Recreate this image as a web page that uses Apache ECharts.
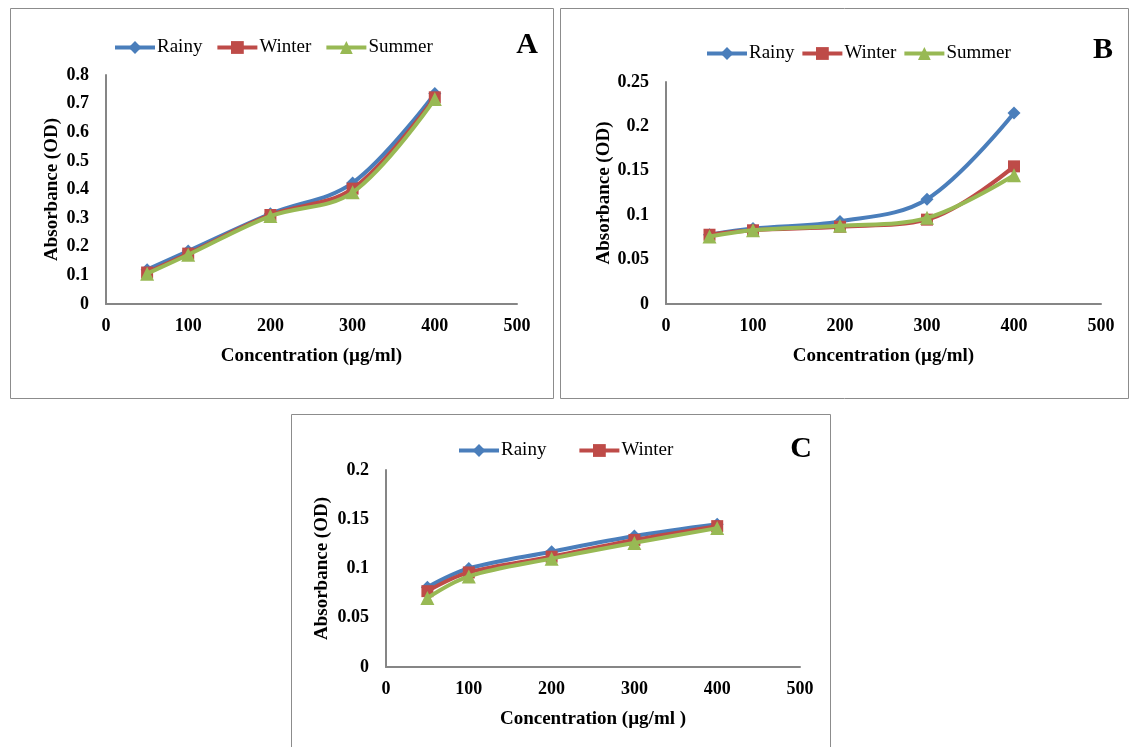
<!DOCTYPE html>
<html><head><meta charset="utf-8">
<script src="https://cdn.jsdelivr.net/npm/echarts@6/dist/echarts.min.js"></script>
<style>html,body{margin:0;padding:0;background:#fff}#c{width:1129px;height:747px}</style>
</head><body><div id="c"></div>
<script>
const concentrations = [50, 100, 200, 300, 400];
const seriesNames = ['Rainy', 'Winter', 'Summer'];
const panelLetters = ['A', 'B', 'C'];
const xTitles = ['Concentration (µg/ml)', 'Concentration (µg/ml)', 'Concentration (µg/ml )'];
const yTitle = 'Absorbance (OD)';
// Panel A
const aRainy  = [0.120, 0.185, 0.315, 0.423, 0.735];
const aWinter = [0.110, 0.176, 0.311, 0.403, 0.722];
const aSummer = [0.106, 0.172, 0.307, 0.390, 0.716];
// Panel B
const bRainy  = [0.078, 0.085, 0.093, 0.118, 0.215];
const bWinter = [0.078, 0.083, 0.087, 0.095, 0.155];
const bSummer = [0.076, 0.083, 0.088, 0.097, 0.145];
// Panel C
const cRainy  = [0.081, 0.100, 0.117, 0.133, 0.145];
const cWinter = [0.077, 0.096, 0.112, 0.129, 0.143];
const cSummer = [0.070, 0.092, 0.110, 0.126, 0.141];
const yMax = [0.8, 0.25, 0.2];
const yInterval = [0.1, 0.05, 0.05];
const legendItems = [['Rainy','Winter','Summer'], ['Rainy','Winter','Summer'], ['Rainy','Winter']];

const panelData = [[aRainy, aWinter, aSummer], [bRainy, bWinter, bSummer], [cRainy, cWinter, cSummer]];
const colors = ['#4A7EBB', '#BE4B48', '#98B954'];
const symbols = ['diamond', 'rect', 'triangle'];
const symSizes = [13, 12, 14];
const FONT = '"Liberation Serif", "Times New Roman", serif';

const grids = [
  {left: 106, top: 75, width: 411, height: 229},
  {left: 666, top: 82, width: 435, height: 222},
  {left: 386, top: 470, width: 414, height: 197}
];
const yNameGap = [44, 52, 54];
const legendPos = [
  {left: 113, top: 38, itemGap: 13},
  {left: 705, top: 44, itemGap: 6},
  {left: 457, top: 441, itemGap: 31}
];
const letterPos = [[527, 45], [1103, 50], [801, 449]];
const frames = [[10.5, 8.5, 543, 390], [560.5, 8.5, 568, 390], [291.5, 414.5, 539, 340]];

const chart = echarts.init(document.getElementById('c'), null, {renderer: 'canvas'});
const axisLine = {show: true, lineStyle: {color: '#868686', width: 2}};
const option = {
  backgroundColor: '#fff',
  animation: false,
  grid: grids,
  xAxis: grids.map((g, i) => ({
    type: 'value', gridIndex: i, min: 0, max: 500, interval: 100,
    name: xTitles[i], nameLocation: 'middle', nameGap: 43,
    nameTextStyle: {fontFamily: FONT, fontWeight: 'bold', fontSize: 19, color: '#000'},
    axisLine: axisLine, axisTick: {show: false}, splitLine: {show: false},
    axisLabel: {fontFamily: FONT, fontWeight: 'bold', fontSize: 18, color: '#000', margin: 13}
  })),
  yAxis: grids.map((g, i) => ({
    type: 'value', gridIndex: i, min: 0, max: yMax[i], interval: yInterval[i],
    name: yTitle, nameLocation: 'middle', nameGap: yNameGap[i], nameRotate: 90,
    nameTextStyle: {fontFamily: FONT, fontWeight: 'bold', fontSize: 19, color: '#000'},
    axisLine: axisLine, axisTick: {show: false}, splitLine: {show: false},
    axisLabel: {fontFamily: FONT, fontWeight: 'bold', fontSize: 18, color: '#000', margin: 17}
  })),
  legend: legendPos.map((p, i) => ({
    left: p.left, top: p.top, itemGap: p.itemGap, itemWidth: 40, itemHeight: 16,
    data: legendItems[i], padding: 0,
    lineStyle: {width: 4},
    textStyle: {fontFamily: FONT, fontSize: 19, color: '#000', padding: [0, 0, 0, -3]}
  })),
  series: [],
  graphic: []
};
panelData.forEach((arr, p) => {
  arr.forEach((vals, s) => {
    option.series.push({
      type: 'line', name: seriesNames[s], xAxisIndex: p, yAxisIndex: p,
      data: concentrations.map((x, k) => [x, vals[k]]),
      smooth: 0.35, symbol: symbols[s], symbolSize: symSizes[s], showSymbol: true,
      lineStyle: {color: colors[s], width: 4},
      itemStyle: {color: colors[s]},
      z: 2 + s
    });
  });
});
frames.forEach(f => option.graphic.push({
  type: 'rect', shape: {x: f[0], y: f[1], width: f[2], height: f[3]},
  style: {fill: 'none', stroke: '#8c8c8c', lineWidth: 1}, silent: true, z: -1
}));
letterPos.forEach((lp, i) => option.graphic.push({
  type: 'text', x: lp[0], y: lp[1],
  style: {text: panelLetters[i], fontFamily: FONT, fontWeight: 'bold', fontSize: 30, fill: '#000', textAlign: 'center', textVerticalAlign: 'middle'}
}));
chart.setOption(option);
</script></body></html>
